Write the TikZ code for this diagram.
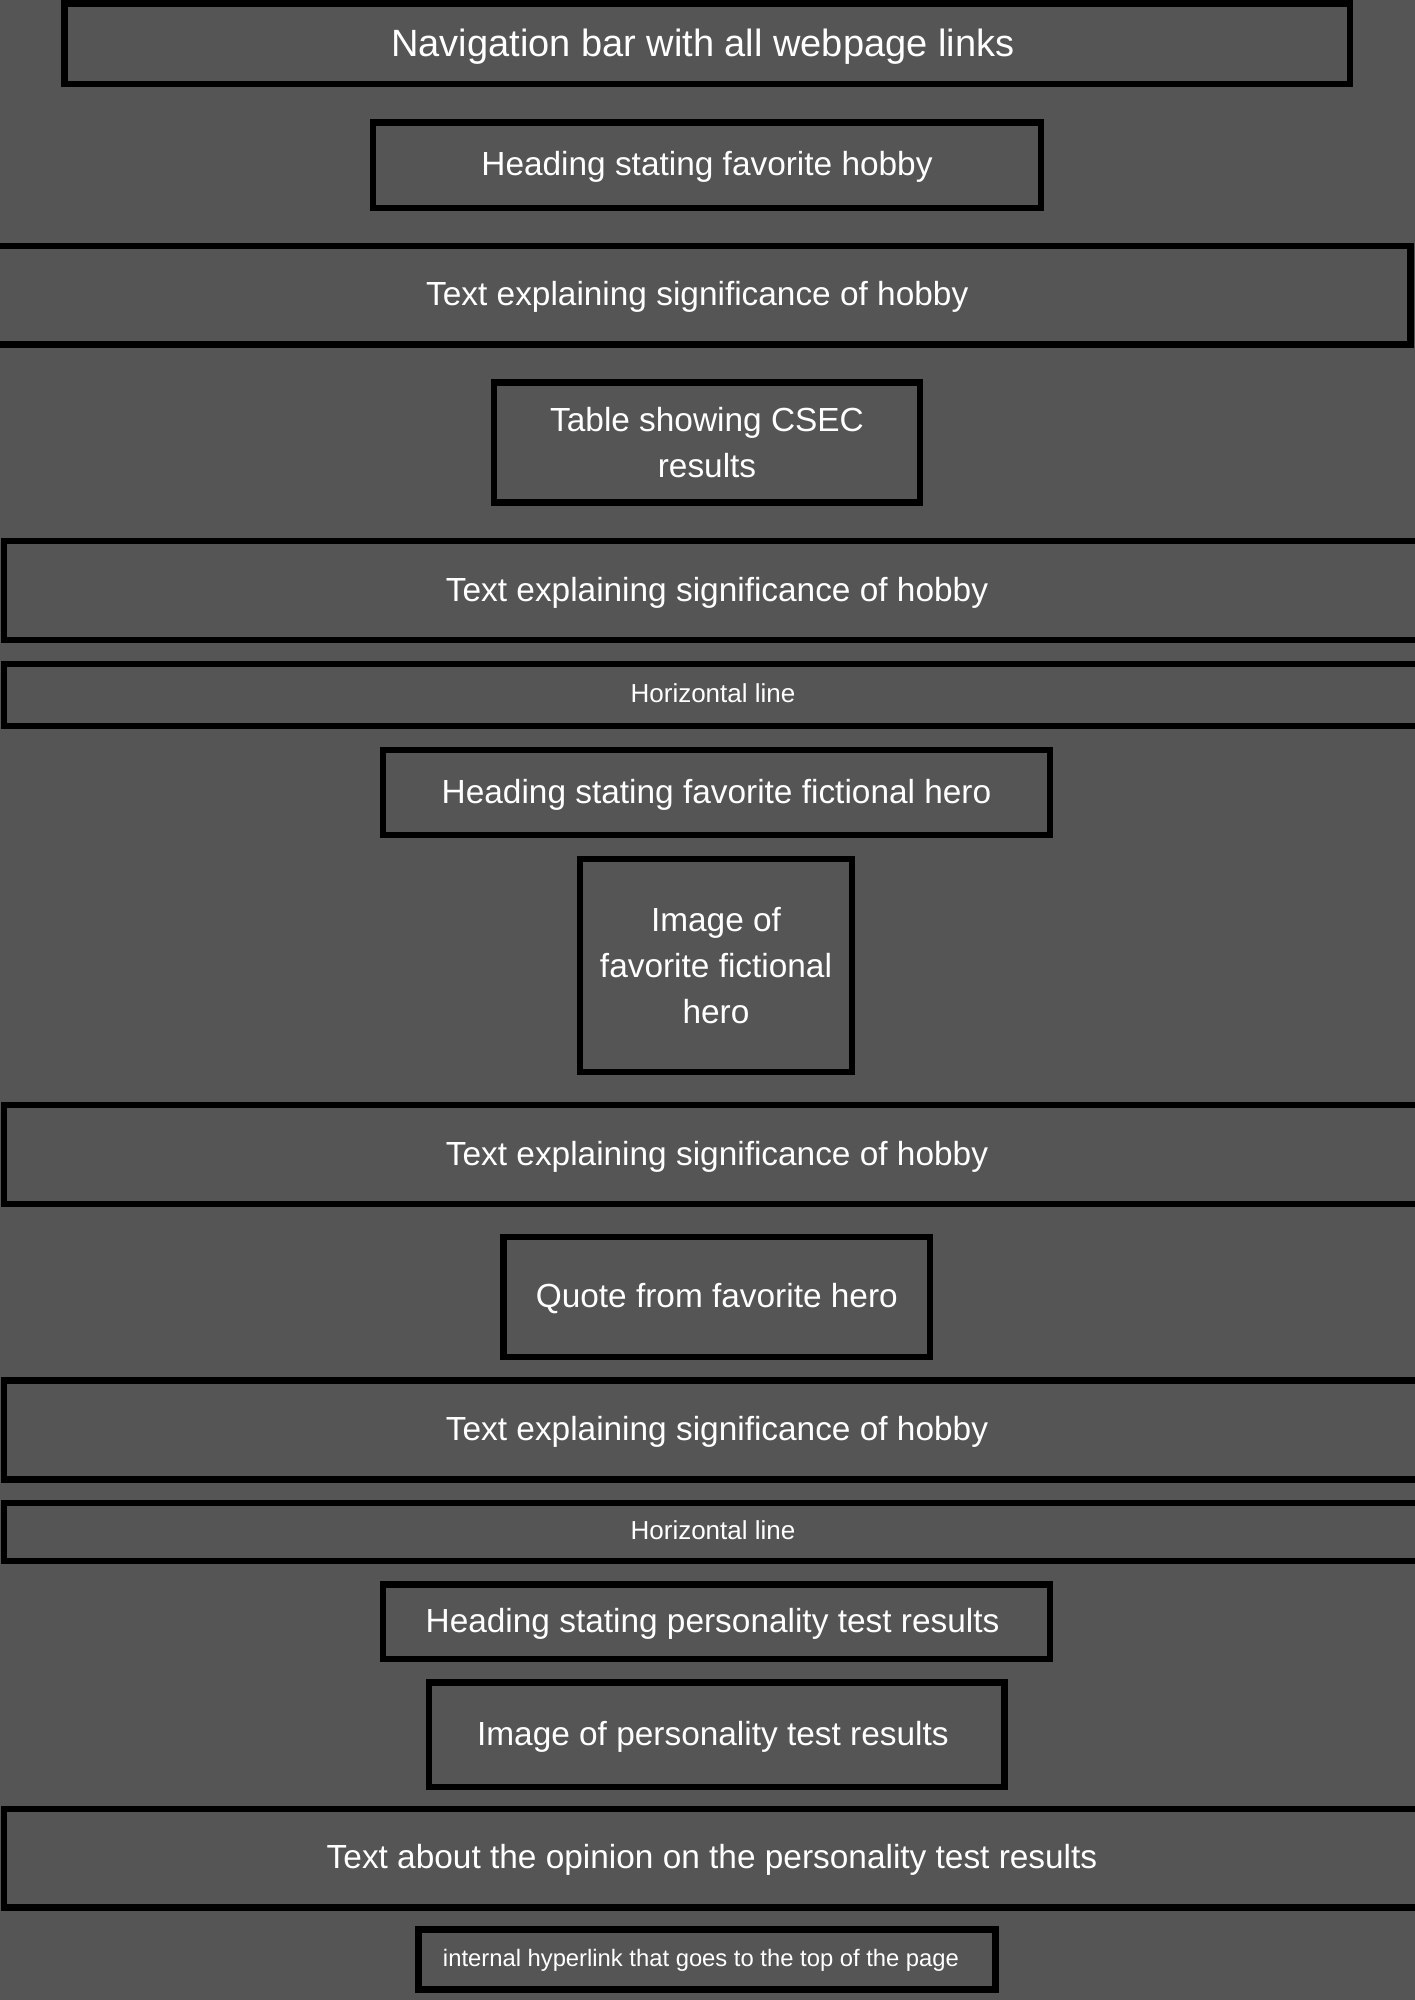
\documentclass[tikz,border=0pt]{standalone}
\usepackage{fontspec}
\setmainfont{Liberation Sans}
\definecolor{bgc}{HTML}{555555}
\tikzset{
  box/.style={draw=black, line width=6.5pt, fill=bgc, text=white, inner sep=0pt, outer sep=0pt, align=center, font=\fontsize{33.4}{46}\selectfont},
  oneline/.style={text height=26pt, text depth=5pt},
  navfont/.style={font=\fontsize{38}{46}\selectfont, text height=30pt, text depth=5.5pt},
  hlfont/.style={font=\fontsize{26}{32}\selectfont, text height=19pt, text depth=3.4pt},
  smallfont/.style={font=\fontsize{23.8}{28}\selectfont, text height=19pt, text depth=4.6pt}
}
\begin{document}
\begin{tikzpicture}[x=1pt,y=-1pt]
\useasboundingbox (0,0) rectangle (1414,2000);
\fill[bgc] (-20,-20) rectangle (1434,2020);
\node[box, navfont, minimum width=1285.5pt, minimum height=80.5pt] (nav) at (707.25,43.75) {Navigation bar with all webpage links\hspace{9pt}};
\node[box, oneline, minimum width=668pt, minimum height=85.5pt] (h1) at (707,165.25) {Heading stating favorite hobby};
\node[box, oneline, minimum width=1426.5pt, minimum height=98.5pt] (t1) at (697.25,295.25) {Text explaining significance of hobby};
\node[box, minimum width=426pt, minimum height=120pt] (tab) at (707,442.5) {Table showing CSEC\\results};
\node[box, oneline, minimum width=1426pt, minimum height=99pt] (t2) at (717,590.5) {Text explaining significance of hobby};
\node[box, hlfont, minimum width=1418pt, minimum height=62pt] (hl1) at (713,695) {Horizontal line};
\node[box, oneline, minimum width=667pt, minimum height=85pt] (h2) at (716.5,792.5) {Heading stating favorite fictional hero};
\node[box, minimum width=272pt, minimum height=213pt] (img1) at (716,965.5) {Image of\\favorite fictional\\hero};
\node[box, oneline, minimum width=1426pt, minimum height=99pt] (t3) at (717,1154.5) {Text explaining significance of hobby};
\node[box, oneline, minimum width=426.4pt, minimum height=120pt] (quote) at (716.8,1297) {Quote from favorite hero};
\node[box, oneline, minimum width=1426pt, minimum height=99pt] (t4) at (717,1430) {Text explaining significance of hobby};
\node[box, hlfont, minimum width=1418pt, minimum height=58pt] (hl2) at (713,1532) {Horizontal line};
\node[box, oneline, minimum width=667pt, minimum height=74.3pt] (h3) at (716.5,1621.85) {Heading stating personality test results\hspace{8pt}};
\node[box, oneline, minimum width=575.7pt, minimum height=104.5pt] (img2) at (716.85,1734.75) {Image of personality test results\hspace{8pt}};
\node[box, oneline, minimum width=1416pt, minimum height=98.5pt] (op) at (712,1858.25) {Text about the opinion on the personality test results};
\node[box, smallfont, minimum width=577pt, minimum height=60pt] (link) at (707,1959.5) {internal hyperlink that goes to the top of the page\hspace{12pt}};
\end{tikzpicture}
\end{document}
